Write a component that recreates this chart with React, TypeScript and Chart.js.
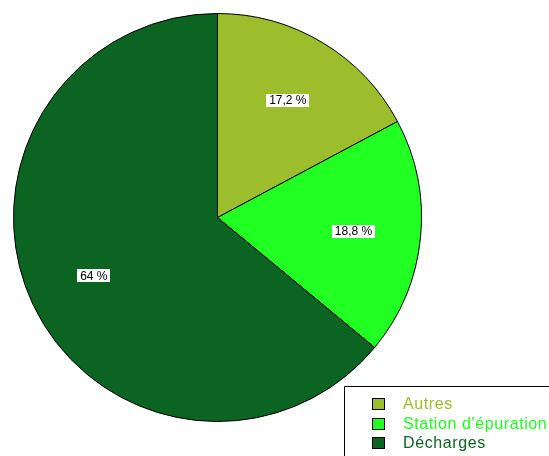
import React, { useEffect, useRef } from "react";
import { Chart, registerables } from "chart.js";

Chart.register(...registerables);

const categories = ["Autres", "Station d'épuration", "Décharges"];
const values = [17.2, 18.8, 64];
const valueLabels = ["17,2 %", "18,8 %", "64 %"];
const colors = ["#9cbd2c", "#22ff22", "#0b6421"];

const labelPlugin = {
  id: "sliceLabels",
  afterDatasetsDraw(chart: any) {
    const ctx = chart.ctx;
    const meta = chart.getDatasetMeta(0);
    ctx.save();
    ctx.font = "12px 'Liberation Sans', Arial, sans-serif";
    ctx.textAlign = "center";
    ctx.textBaseline = "middle";
    meta.data.forEach((arc: any, i: number) => {
      const p = arc.getProps(["x", "y", "startAngle", "endAngle", "outerRadius"], true);
      const mid = (p.startAngle + p.endAngle) / 2;
      const d = p.outerRadius * 0.67;
      const x = p.x + Math.cos(mid) * d;
      const y = p.y + Math.sin(mid) * d;
      const t = valueLabels[i];
      const w = ctx.measureText(t).width + 6;
      const h = 13;
      ctx.fillStyle = "#ffffff";
      ctx.fillRect(Math.round(x - w / 2), Math.round(y - h / 2), Math.round(w), h);
      ctx.fillStyle = "#000000";
      ctx.fillText(t, x, y + 0.5);
    });
    ctx.restore();
  },
};

const legendPlugin = {
  id: "boxLegend",
  afterDraw(chart: any) {
    const ctx = chart.ctx;
    ctx.save();
    const bx = 344.5;
    const by = 386.5;
    ctx.fillStyle = "#ffffff";
    ctx.fillRect(bx, by, 300, 100);
    ctx.strokeStyle = "#000000";
    ctx.lineWidth = 1;
    ctx.beginPath();
    ctx.moveTo(bx, 470);
    ctx.lineTo(bx, by);
    ctx.lineTo(600, by);
    ctx.stroke();
    ctx.font = "16px 'Liberation Sans', Arial, sans-serif";
    (ctx as any).letterSpacing = "0.6px";
    ctx.textBaseline = "middle";
    ctx.textAlign = "left";
    categories.forEach((c, i) => {
      const y = 398 + i * 19.5;
      ctx.fillStyle = colors[i];
      ctx.fillRect(372, Math.round(y), 13, 12);
      ctx.strokeStyle = "#000000";
      ctx.strokeRect(372.5, Math.round(y) + 0.5, 12, 11);
      ctx.fillStyle = colors[i];
      ctx.fillText(c, 403, Math.round(y) + 6.5);
    });
    ctx.restore();
  },
};

export default function App() {
  const ref = useRef<HTMLCanvasElement>(null);
  useEffect(() => {
    if (!ref.current) return;
    const chart = new Chart(ref.current, {
      type: "pie",
      data: {
        labels: categories,
        datasets: [
          {
            data: values,
            backgroundColor: colors,
            borderColor: "#000000",
            borderWidth: 1,
          },
        ],
      },
      options: {
        responsive: false,
        animation: false,
        layout: { padding: { left: 13, top: 13, right: 127, bottom: 34 } },
        plugins: {
          legend: { display: false },
          tooltip: { enabled: false },
        },
      },
      plugins: [labelPlugin, legendPlugin],
    });
    return () => chart.destroy();
  }, []);
  return (
    <div style={{ position: "absolute", left: 0, top: 0, width: 549, height: 456, background: "#fff" }}>
      <canvas ref={ref} width={549} height={456} />
    </div>
  );
}
